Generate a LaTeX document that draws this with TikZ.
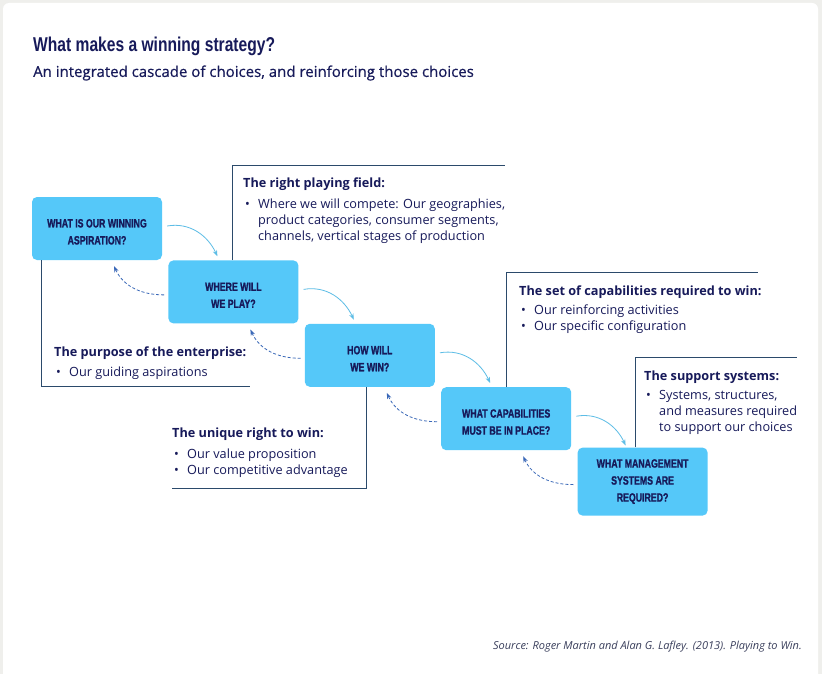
\documentclass[tikz,border=0pt]{standalone}
\usepackage{fontspec}
\setmainfont{Open Sans}
\newfontfamily\subfont{Open Sans}[FakeBold=0.4]
\newfontfamily\titlefont{Liberation Sans}[FakeStretch=0.78]
\newfontfamily\boxfont{Liberation Sans}[FakeStretch=0.73,FakeBold=1.3]
\usetikzlibrary{positioning,arrows.meta}

\definecolor{pagegrey}{HTML}{EFEFEC}
\definecolor{boxblue}{HTML}{55C8F9}
\definecolor{navy}{HTML}{171A5A}
\definecolor{lineblue}{HTML}{2B4A6B}
\definecolor{fwdblue}{HTML}{5DBDE6}
\definecolor{backblue}{HTML}{3A68B8}
\definecolor{srcgrey}{HTML}{3A3F5C}

\newcommand{\bulmark}{\makebox[15pt][l]{\hspace{2pt}\textbullet}}
\newcommand{\bulind}{\hspace*{15pt}}
\newcommand{\boxpad}{\mbox{}\\[-2pt]}

\begin{document}
\begin{tikzpicture}
	[ x=1pt, y=-1pt,
	  choice/.style={fill=boxblue,rounded corners=5pt,minimum width=130pt,minimum height=63pt,
	    align=center,text=navy,font=\boxfont\bfseries\fontsize{12}{17}\selectfont},
	  callout/.style={draw=lineblue,line width=0.8pt},
	  head/.style={anchor=west,inner sep=0pt,text=navy,font=\bfseries\fontsize{12.7}{16}\selectfont},
	  body/.style={anchor=north west,inner sep=0pt,align=left,text=navy,font=\fontsize{12.7}{16}\selectfont},
	  fwd/.style={fwdblue,line width=0.8pt,-{Stealth[length=6pt,width=4.5pt]}},
	  back/.style={backblue,line width=0.8pt,dashed,dash pattern=on 3pt off 2pt,-{Stealth[length=6pt,width=4.5pt]}} ]

	\useasboundingbox (0,0) rectangle (822,674);
	\fill[pagegrey] (0,0) rectangle (822,674);
	\fill[white,rounded corners=6pt] (3,3) rectangle (818,690);

	\node[anchor=west,inner sep=0pt,text=navy,font=\titlefont\bfseries\fontsize{20}{24}\selectfont] (title) at (33,46) {What makes a winning strategy?};
	\node[anchor=west,inner sep=0pt,text=navy,font=\subfont\fontsize{15}{18}\selectfont] (subtitle) at (33,73) {An integrated cascade of choices, and reinforcing those choices};

	\node[choice] (aspire) at (97,228.5) {\boxpad WHAT IS OUR WINNING\\ASPIRATION?};
	\node[choice,below right=0pt and 6pt of aspire] (play) {\boxpad WHERE WILL\\WE PLAY?};
	\node[choice,below right=0pt and 6pt of play] (win) {\boxpad HOW WILL\\WE WIN?};
	\node[choice,below right=0pt and 6pt of win] (capab) {\boxpad WHAT CAPABILITIES\\MUST BE IN PLACE?};
	\node[choice,minimum height=68pt,below right=-3pt and 6pt of capab] (mgmt) {WHAT MANAGEMENT\\SYSTEMS ARE\\REQUIRED?};

	\coordinate (fieldend) at (505,165);
	\coordinate (purposeend) at (250,386);
	\coordinate (uniqueend) at (172,488);
	\coordinate (capabend) at (758,272);
	\coordinate (supportend) at (797,357);

	\draw[callout] ([xshift=-1pt]play.north) |- (fieldend);
	\draw[callout] ([xshift=10pt]aspire.south west) |- (purposeend);
	\draw[callout] ([xshift=-3pt]win.south) |- (uniqueend);
	\draw[callout] (capab.north) |- (capabend);
	\draw[callout] ([xshift=-7pt]mgmt.north) |- (supportend);

	\node[head] (fieldhead) at (243,184.5) {The right playing field:};
	\node[body] (fieldbody) at (243,199) {\bulmark Where we will compete: Our geographies,\\\bulind product categories, consumer segments,\\\bulind channels, vertical stages of production};

	\node[head] (purposehead) at (54,353.5) {The purpose of the enterprise:};
	\node[body] (purposebody) at (54,367) {\bulmark Our guiding aspirations};

	\node[head] (uniquehead) at (172,434.5) {The unique right to win:};
	\node[body] (uniquebody) at (172,449) {\bulmark Our value proposition\\\bulmark Our competitive advantage};

	\node[head] (capabhead) at (519,292.5) {The set of capabilities required to win:};
	\node[body] (capabbody) at (519,305) {\bulmark Our reinforcing activities\\\bulmark Our specific configuration};

	\node[head] (supporthead) at (644,377.5) {The support systems:};
	\node[body] (supportbody) at (644,390.5) {\bulmark Systems, structures,\\\bulind and measures required\\\bulind to support our choices};

	\draw[fwd] ([xshift=5pt,yshift=2.5pt]aspire.east) to[out=10,in=115] ([xshift=-16pt,yshift=4pt]play.north);
	\draw[fwd] ([xshift=5pt,yshift=2.5pt]play.east) to[out=10,in=115] ([xshift=-16pt,yshift=4pt]win.north);
	\draw[fwd] ([xshift=5pt,yshift=2.5pt]win.east) to[out=10,in=115] ([xshift=-16pt,yshift=4pt]capab.north);
	\draw[fwd] ([xshift=5pt,yshift=2.5pt]capab.east) to[out=10,in=115] ([xshift=-17pt,yshift=2pt]mgmt.north);

	\draw[back] ([xshift=-4pt,yshift=-3pt]play.west) to[out=180,in=-65] ([xshift=17pt,yshift=-6pt]aspire.south);
	\draw[back] ([xshift=-4pt,yshift=-3pt]win.west) to[out=180,in=-65] ([xshift=17pt,yshift=-6pt]play.south);
	\draw[back] ([xshift=-4pt,yshift=-3pt]capab.west) to[out=180,in=-65] ([xshift=17pt,yshift=-6pt]win.south);
	\draw[back] ([xshift=-4pt,yshift=-3pt]mgmt.west) to[out=180,in=-65] ([xshift=17pt,yshift=-6pt]capab.south);

	\node[anchor=east,inner sep=0pt,text=srcgrey,font=\itshape\fontsize{11}{13}\selectfont] (source) at (802,647) {Source: Roger Martin and Alan G. Lafley. (2013). Playing to Win.};
\end{tikzpicture}
\end{document}
